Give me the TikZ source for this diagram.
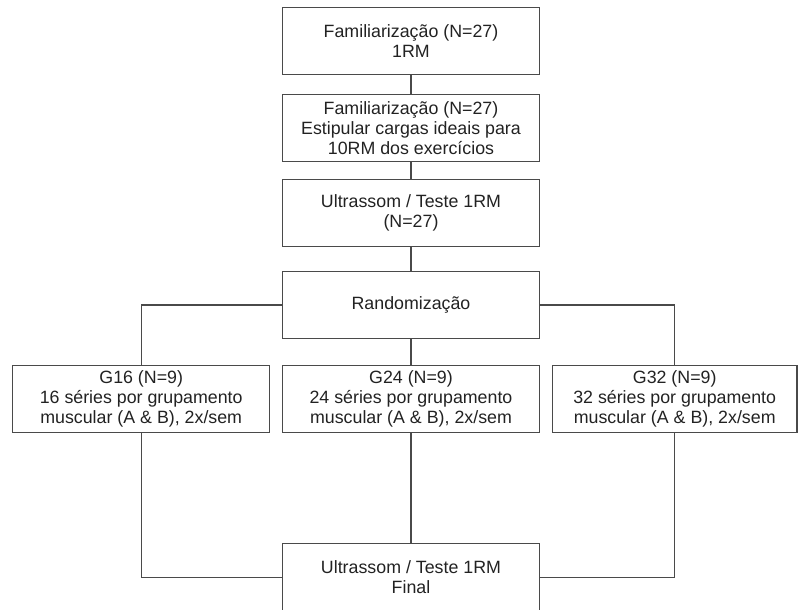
\documentclass[tikz,border=0pt]{standalone}
\usepackage{fontspec}
\setmainfont{Liberation Sans}
\usepackage{tikz}
\usetikzlibrary{shapes.geometric, arrows}
\definecolor{linegray}{HTML}{4A4A4A}
\definecolor{textgray}{HTML}{222222}
\tikzstyle{block} = [rectangle, draw=linegray, line width=1.3pt, text=textgray,
    minimum width=257pt, minimum height=67pt, align=center,
    font=\fontsize{17.8}{20}\selectfont]
\tikzstyle{narrow} = [block, minimum width=244.7pt]
\tikzstyle{line} = [draw=linegray, line width=1.3pt]

\begin{document}
\begin{tikzpicture}[x=1pt, y=-1pt]
                \useasboundingbox (0,0) rectangle (800,610);
                \node [block] at (411,40.7) (fam1) {Familiarização (N=27)\\1RM};
                \node [block] at (411,127.8) (fam2) {Familiarização (N=27)\\Estipular cargas ideais para\\10RM dos exercícios};
                \node [block] at (411,213) (ultra) {Ultrassom / Teste 1RM\\(N=27)};
                \node [block] at (411,305) (rand) {Randomização};
                \node [block] at (141.2,399.2) (g16) {G16 (N=9)\\16 séries por grupamento\\muscular (A \& B), 2x/sem};
                \node [block] at (411,399.2) (g24) {G24 (N=9)\\24 séries por grupamento\\muscular (A \& B), 2x/sem};
                \node [narrow] at (674.7,399.2) (g32) {G32 (N=9)\\32 séries por grupamento\\muscular (A \& B), 2x/sem};
                \node [block] at (411,577.3) (final) {Ultrassom / Teste 1RM\\Final};
                \path [line] (fam1) -- (fam2);
                \path [line] (fam2) -- (ultra);
                \path [line] (ultra) -- (rand);
                \path [line] (rand.west) -| (g16.north);
                \path [line] (rand) -- (g24);
                \path [line] (rand.east) -| (g32.north);
                \path [line] (g16.south) |- (final.west);
                \path [line] (g24) -- (final);
                \path [line] (g32.south) |- (final.east);
            \end{tikzpicture}
\end{document}
